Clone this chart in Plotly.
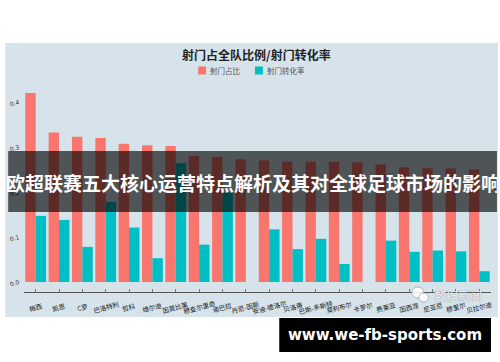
import plotly.graph_objects as go

players = ["梅西", "凯恩", "C罗", "巴洛特利", "哲科", "维尔迪", "因莫比莱", "穆查尔里奇",
           "迪巴拉", "丹尼-因斯", "安迪-德洛尔", "贝洛蒂", "巴斯-多斯特", "莫利布尔",
           "卡罗尔", "费莱亚", "因西涅", "尼亚尼", "穆里尔", "贝拉尔迪"]
shot_share = [0.420, 0.332, 0.323, 0.320, 0.307, 0.304, 0.302, 0.280, 0.278, 0.273,
              0.270, 0.268, 0.267, 0.267, 0.266, 0.261, 0.255, 0.253, 0.252, 0.250]
conversion = [0.147, 0.138, 0.078, 0.178, 0.121, 0.053, 0.264, 0.083, 0.199, 0.0,
              0.117, 0.073, 0.096, 0.040, 0.0, 0.092, 0.067, 0.070, 0.068, 0.024]
series_names = ["射门占比", "射门转化率"]
series_colors = ["#f8766d", "#00bfc4"]
y_ticks = [0.0, 0.1, 0.2, 0.3, 0.4]
y_tick_text = ["0.0", "0.1", "0.2", "0.3", "0.4"]

W, H = 500, 362
L, R, T, B = 19, 9, 90, 70
PW, PH = W - L - R, H - T - B

def px(p):
    return (p - L) / PW

def py(p):
    return (H - B - p) / PH

CJK = "Noto Sans CJK SC"

fig = go.Figure()
for vals, name, col in zip([shot_share, conversion], series_names, series_colors):
    fig.add_trace(go.Bar(x=players, y=vals, name=name, showlegend=False,
                         marker=dict(color=col, line=dict(width=0))))

shapes = [
    dict(type="rect", xref="paper", yref="paper", x0=px(0), x1=px(498), y0=py(317), y1=py(43),
         fillcolor="#d7e3ea", line=dict(width=0), layer="below"),
    dict(type="rect", xref="paper", yref="paper", x0=px(3), x1=px(497), y0=py(212), y1=py(151),
         fillcolor="rgba(0,0,0,0.63)", line=dict(width=0), layer="above"),
    dict(type="rect", xref="paper", yref="paper", x0=px(277), x1=px(491), y0=py(352), y1=py(318),
         fillcolor="#000000", line=dict(width=0), layer="above"),
    dict(type="circle", xref="paper", yref="paper", x0=px(411), x1=px(423), y0=py(298), y1=py(287),
         fillcolor="rgba(255,255,255,0.85)", line=dict(width=0.8, color="#9aa"), layer="above"),
    dict(type="circle", xref="paper", yref="paper", x0=px(418), x1=px(428), y0=py(302), y1=py(293),
         fillcolor="rgba(255,255,255,0.85)", line=dict(width=0.8, color="#9aa"), layer="above"),
]

annotations = [
    dict(text="<b>射门占全队比例/射门转化率</b>", xref="paper", yref="paper", x=px(254), y=py(54),
         showarrow=False, font=dict(family=CJK, size=12, color="#222"), xanchor="center", yanchor="middle"),
    dict(text="<b>欧超联赛五大核心运营特点解析及其对全球足球市场的影响</b>", xref="paper", yref="paper",
         x=px(250), y=py(182), showarrow=False, xanchor="center", yanchor="middle",
         font=dict(family=CJK, size=19, color="#ffffff")),
    dict(text="<b>www.we-fb-sports.com</b>", xref="paper", yref="paper", x=px(384), y=py(335),
         showarrow=False, xanchor="center", yanchor="middle",
         font=dict(family="DejaVu Sans", size=15, color="#ffffff")),
    dict(text="数据新闻", xref="paper", yref="paper", x=px(458), y=py(295), showarrow=False,
         xanchor="center", yanchor="middle",
         font=dict(family=CJK, size=12, color="rgba(255,255,255,0.9)", shadow="0px 0px 1px #667")),
]

# manual legend
legend_x = [195, 252.5]
for lx, name, col in zip(legend_x, series_names, series_colors):
    shapes.append(dict(type="rect", xref="paper", yref="paper", x0=px(lx), x1=px(lx + 8),
                       y0=py(74.5), y1=py(66.5), fillcolor=col, line=dict(width=0)))
    annotations.append(dict(text=name, xref="paper", yref="paper", x=px(lx + 10), y=py(70.5),
                            showarrow=False, xanchor="left", yanchor="middle",
                            font=dict(family=CJK, size=7.5, color="#555")))

for name in players:
    annotations.append(dict(text=name, x=name, xref="x", yref="paper", y=py(307), showarrow=False,
                            textangle=-15, xanchor="center", yanchor="middle",
                            font=dict(family=CJK, size=6.5, color="#111")))

fig.update_layout(
    width=W, height=H,
    margin=dict(l=L, r=R, t=T, b=B),
    paper_bgcolor="#ffffff", plot_bgcolor="rgba(0,0,0,0)",
    barmode="group", bargap=0.11, bargroupgap=0,
    showlegend=False,
    shapes=shapes, annotations=annotations,
    xaxis=dict(showline=True, linecolor="#555", linewidth=1, ticks="inside", ticklen=3,
               tickcolor="#777", showticklabels=False, showgrid=False, zeroline=False,
               range=[-0.5, len(players) - 0.5]),
    yaxis=dict(range=[-10 / 450, (282 - 90) / 450], tickvals=y_ticks, ticktext=y_tick_text,
               showgrid=False, zeroline=False, showline=False, ticks="", tickangle=-15,
               tickfont=dict(family="DejaVu Sans", size=6, color="#333"), ticklabelstandoff=4),
)

fig.write_html("out.html")
